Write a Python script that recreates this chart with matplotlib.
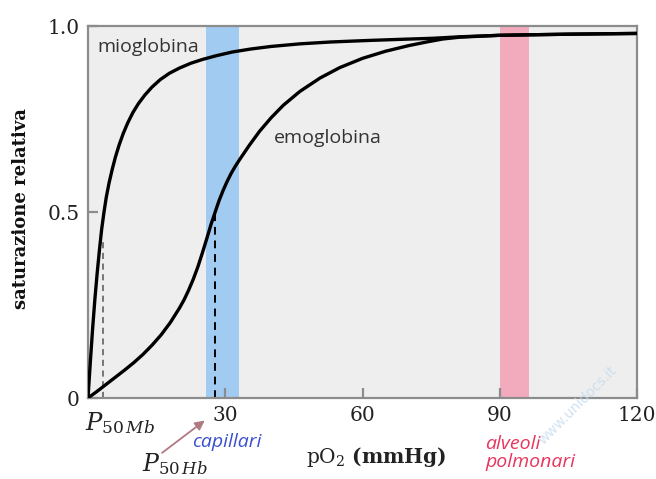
import matplotlib
matplotlib.use("Agg")
import matplotlib.pyplot as plt

# ---- data ----
myo_x = [0, 0.5, 1.0, 1.5, 2.0, 2.5, 3.0, 3.5, 4.0, 4.6, 5.3, 6.0, 6.8, 7.7, 8.7,
         9.8, 11.0, 12.4, 14.0, 15.8, 17.8, 20.0, 22.5, 25.0, 28, 31.5, 35.5, 40,
         46.3, 53, 61, 68, 75.4, 81.3, 90, 105, 120]
myo_y = [0, 0.095, 0.185, 0.265, 0.335, 0.398, 0.455, 0.50, 0.54, 0.578, 0.615,
         0.648, 0.68, 0.711, 0.74, 0.767, 0.791, 0.814, 0.836, 0.856, 0.873, 0.887,
         0.9, 0.91, 0.92, 0.93, 0.938, 0.945, 0.952, 0.957, 0.961, 0.964, 0.967,
         0.971, 0.975, 0.978, 0.98]

hb_x = [0, 2, 4, 6, 8, 10, 12, 14, 16, 18, 20, 21, 22, 23, 24, 25, 26, 26.9, 27.8,
        28.6, 29.5, 30.4, 31.3, 32.2, 33.2, 35.3, 37.5, 40, 42.7, 46.3, 50.7, 55,
        60, 65, 70, 74, 77.5, 81.3, 90, 105, 120]
hb_y = [0, 0.018, 0.037, 0.056, 0.075, 0.095, 0.117, 0.142, 0.170, 0.203, 0.242,
        0.264, 0.29, 0.319, 0.352, 0.39, 0.43, 0.467, 0.50, 0.529, 0.557, 0.582,
        0.604, 0.623, 0.642, 0.68, 0.717, 0.753, 0.787, 0.824, 0.86, 0.888, 0.913,
        0.932, 0.947, 0.957, 0.965, 0.970, 0.975, 0.978, 0.98]

p50_mb = 3.35
p50_mb_top = 0.425
p50_hb = 27.8
p50_hb_top = 0.50

capillari_range = (25.7, 33.0)
alveoli_range = (90.0, 96.4)

x_ticks = [30, 60, 90, 120]
x_ticklabels = ["30", "60", "90", "120"]
y_ticks = [0, 0.5, 1.0]
y_ticklabels = ["0", "0.5", "1.0"]

# ---- figure ----
plt.rcParams['mathtext.fontset'] = 'dejavuserif'
fig = plt.figure(figsize=(6.56, 4.79), dpi=100)
ax = fig.add_axes([88/656, 1-398/479, (637-88)/656, (398-26)/479])
ax.set_facecolor("#eeeeee")
ax.set_xlim(0, 120)
ax.set_ylim(0, 1.0)

ax.axvspan(*capillari_range, color="#a2cbf1", lw=0, zorder=1)
ax.axvspan(*alveoli_range, color="#f1abbd", lw=0, zorder=1)

ax.plot([p50_mb, p50_mb], [0, p50_mb_top], ls=(0, (4, 3)), color="#555555", lw=1.1, zorder=2)
ax.plot([p50_hb, p50_hb], [0, p50_hb_top], ls=(0, (4, 3)), color="black", lw=1.4, zorder=2)

ax.plot(myo_x, myo_y, color="black", lw=2.4, solid_capstyle="round",
        solid_joinstyle="round", zorder=3)
ax.plot(hb_x, hb_y, color="black", lw=2.4, solid_capstyle="round",
        solid_joinstyle="round", zorder=3)

for s in ax.spines.values():
    s.set_color("#8c8c8c")
    s.set_linewidth(1.6)

ax.set_xticks(x_ticks)
ax.set_xticklabels(x_ticklabels)
ax.set_yticks(y_ticks)
ax.set_yticklabels(y_ticklabels)
ax.tick_params(axis="both", direction="in", color="#8c8c8c", width=1.6, length=7,
               labelsize=14.5, pad=6)
for lab in ax.get_xticklabels() + ax.get_yticklabels():
    lab.set_family("DejaVu Serif")
    lab.set_color("#222222")

fig.text(21/656, 1-209/479, "saturazione relativa", family="DejaVu Serif",
         fontweight="bold", fontsize=13, color="#111111", rotation=90,
         ha="center", va="center")

ax.text(2.0, 0.944, "mioglobina", family="Open Sans", fontsize=14, color="#333333",
        ha="left", va="center", zorder=4)
ax.text(40.7, 0.70, "emoglobina", family="Open Sans", fontsize=14, color="#333333",
        ha="left", va="center", zorder=4)

ax.text(7.0, -0.067, r"$P_{50\,Mb}$", fontsize=17.5, color="#222222",
        ha="center", va="center", clip_on=False)
ax.text(19.0, -0.178, r"$P_{50\,Hb}$", fontsize=17, color="#222222",
        ha="center", va="center", clip_on=False)
ax.annotate("", xy=(26.0, -0.056), xytext=(15.7, -0.152),
            arrowprops=dict(arrowstyle="-|>", color="#b07a82", lw=1.3, mutation_scale=14),
            annotation_clip=False)
ax.text(30.4, -0.118, "capillari", family="Open Sans", style="italic", fontsize=14,
        color="#3a4fd0", ha="center", va="center", clip_on=False)
ax.text(86.8, -0.148, "alveoli\npolmonari", family="Open Sans", style="italic",
        fontsize=14, color="#e8355e", ha="left", va="center", linespacing=1.0,
        clip_on=False)
ax.text(63.0, -0.159, r"pO$_2$ $\mathbf{(mmHg)}$", family="DejaVu Serif", fontsize=14.5,
        color="#222222", ha="center", va="center", clip_on=False)

fig.text(578/656, 1-405/479, "www.unidocs.it", rotation=45, fontsize=10,
         color="#c4dbef", ha="center", va="center", alpha=0.8)

fig.savefig("out.png", dpi=100)
